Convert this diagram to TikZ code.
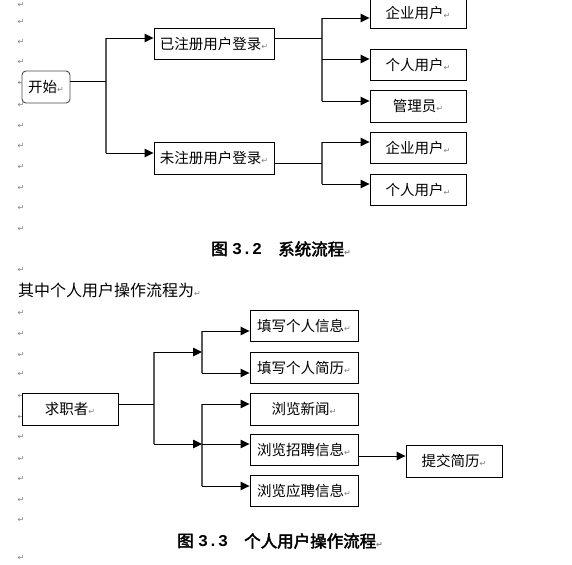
\documentclass[tikz,border=0pt]{standalone}
\usepackage{fontspec}
\usetikzlibrary{arrows.meta}
\newfontfamily\cjk[AutoFakeBold=2.5]{Noto Sans CJK SC}
\newfontfamily\markfont{DejaVu Sans}
\newfontfamily\digfont{Liberation Mono}
\newcommand\parmark{{\markfont\fontsize{8}{8}\selectfont\color{gray}↵}}
\begin{document}
\begin{tikzpicture}[x=1pt,y=-1pt,
  box/.style={draw=black, line width=0.9pt, fill=white, inner sep=0pt, font=\cjk\fontsize{14.5}{16}\selectfont},
  conn/.style={line width=0.9pt, draw=black},
  arr/.style={conn, -{Triangle[length=9pt,width=8.5pt]}},
  trunk/.style={line width=1.6pt, draw=gray!70!black},
  pmk/.style={inner sep=0pt, text=gray, font=\markfont\fontsize{8}{8}\selectfont},
  txt/.style={inner sep=0pt, anchor=west},
  captxt/.style={txt, font=\cjk\bfseries\fontsize{16.5}{18}\selectfont},
  capnum/.style={txt, font=\digfont\bfseries\fontsize{16.5}{18}\selectfont}
]
\useasboundingbox (0,0) rectangle (572,564);
\fill[white] (0,0) rectangle (572,564);

% paragraph marks in the left margin
\foreach \yy [count=\i] in {5,22,42,62,83,105,126,146,167,188,208,229,270,313,334,355,374,396,417,437,459,479,500,520,558}
  \node[pmk] (m\i) at (21,\yy) {↵};

% ---------- Fig 3.2 ----------
\node[box, rounded corners=4pt, draw=gray!60!black, minimum width=48pt, minimum height=32pt] (start) at (46,87) {开始\parmark};
\node[box, minimum width=120pt, minimum height=31pt] (reg) at (214,43.5) {已注册用户登录\parmark};
\node[box, minimum width=120pt, minimum height=32pt] (unreg) at (214,158) {未注册用户登录\parmark};
\node[box, minimum width=96pt, minimum height=31pt] (ent1) at (418,12.5) {企业用户\parmark};
\node[box, minimum width=96pt, minimum height=31pt] (per1) at (418,64.5) {个人用户\parmark};
\node[box, minimum width=96pt, minimum height=32pt] (adm) at (418,106) {管理员\parmark};
\node[box, minimum width=96pt, minimum height=31pt] (ent2) at (418,147.5) {企业用户\parmark};
\node[box, minimum width=96pt, minimum height=31pt] (per2) at (418,189.5) {个人用户\parmark};

\coordinate (j1) at (106,81);
\coordinate (j1t) at (106,38);
\coordinate (j1b) at (106,153);
\coordinate (j2) at (322,38);
\coordinate (j2t) at (322,18);
\coordinate (j2m) at (322,59);
\coordinate (j2b) at (322,101);
\coordinate (j3) at (322,163);
\coordinate (j3t) at (322,142);
\coordinate (j3b) at (322,184);

\draw[trunk] (j1t) -- (j1b);
\draw[trunk] (j2t) -- (j2b);
\draw[trunk] (j3t) -- (j3b);
\draw[conn] (start.east |- j1) -- (j1);
\draw[arr] (j1t) -- (reg.west |- j1t);
\draw[arr] (j1b) -- (unreg.west |- j1b);
\draw[conn] (reg.east |- j2) -- (j2);
\draw[arr] (j2t) -- (ent1.west |- j2t);
\draw[arr] (j2m) -- (per1.west |- j2m);
\draw[arr] (j2b) -- (adm.west |- j2b);
\draw[conn] (unreg.east |- j3) -- (j3);
\draw[arr] (j3t) -- (ent2.west |- j3t);
\draw[arr] (j3b) -- (per2.west |- j3b);

\node[captxt] (c1a) at (211,249) {图};
\node[capnum] (c1b) at (232,249) {3.2};
\node[captxt] (c1c) at (278,249) {系统流程\parmark};

\node[txt, font=\cjk\fontsize{16}{18}\selectfont] (intro) at (18,290) {其中个人用户操作流程为\parmark};

% ---------- Fig 3.3 ----------
\node[box, minimum width=96pt, minimum height=32pt] (seeker) at (70,409) {求职者\parmark};
\node[box, minimum width=108pt, minimum height=31pt] (info) at (304,325.5) {填写个人信息\parmark};
\node[box, minimum width=108pt, minimum height=31pt] (resume) at (304,367.5) {填写个人简历\parmark};
\node[box, minimum width=108pt, minimum height=32pt] (news) at (304,409) {浏览新闻\parmark};
\node[box, minimum width=108pt, minimum height=31pt] (recruit) at (304,449.5) {浏览招聘信息\parmark};
\node[box, minimum width=108pt, minimum height=31pt] (apply) at (304,490.5) {浏览应聘信息\parmark};
\node[box, minimum width=96pt, minimum height=32pt] (submit) at (454,461) {提交简历\parmark};

\coordinate (ja) at (154,404);
\coordinate (jat) at (154,352);
\coordinate (jab) at (154,444);
\coordinate (jb) at (202,352);
\coordinate (jbt) at (202,331);
\coordinate (jbb) at (202,373);
\coordinate (jc) at (202,444);
\coordinate (jct) at (202,404);
\coordinate (jcb) at (202,486);
\coordinate (k) at (380,456);

\draw[trunk] (jat) -- (jab);
\draw[trunk] (jbt) -- (jbb);
\draw[trunk] (jct) -- (jcb);
\draw[conn] (seeker.east |- ja) -- (ja);
\draw[arr] (jat) -- (jb);
\draw[arr] (jbt) -- (info.west |- jbt);
\draw[arr] (jbb) -- (resume.west |- jbb);
\draw[arr] (jab) -- (jc);
\draw[arr] (jct) -- (news.west |- jct);
\draw[arr] (jc) -- (recruit.west |- jc);
\draw[arr] (jcb) -- (apply.west |- jcb);
\draw[arr] (recruit.east |- k) -- (submit.west |- k);

\node[captxt] (c2a) at (177,541) {图};
\node[capnum] (c2b) at (198,541) {3.3};
\node[captxt] (c2c) at (244,541) {个人用户操作流程\parmark};
\end{tikzpicture}
\end{document}
